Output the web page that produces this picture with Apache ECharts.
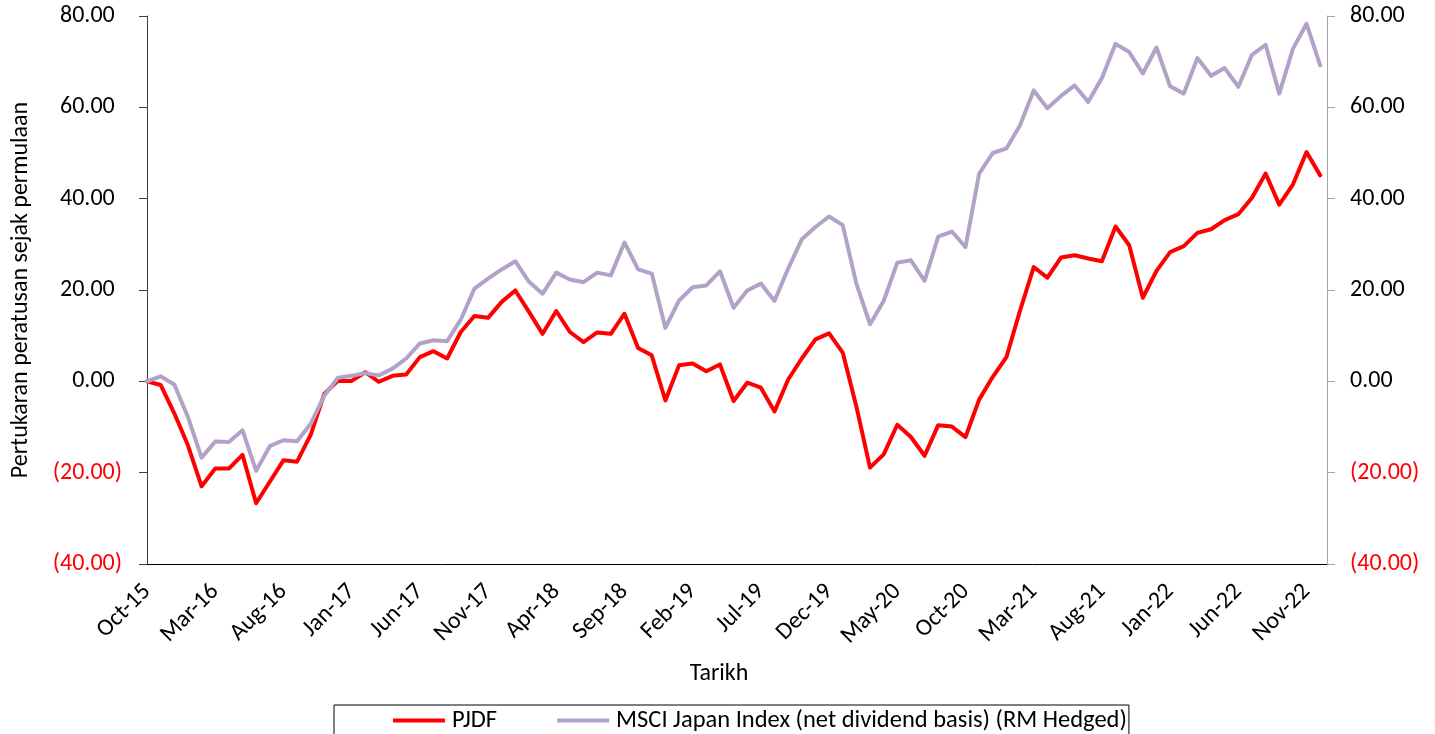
<!DOCTYPE html>
<html>
<head>
<meta charset="utf-8">
<script src="https://cdn.jsdelivr.net/npm/echarts@6/dist/echarts.min.js"></script>
<style>
html,body{margin:0;padding:0;background:#fff;}
#chart{width:1435px;height:734px;}
</style>
</head>
<body>
<div id="chart"></div>
<script>
const categories = [
 'Oct-15','Nov-15','Dec-15',
 'Jan-16','Feb-16','Mar-16','Apr-16','May-16','Jun-16','Jul-16','Aug-16','Sep-16','Oct-16','Nov-16','Dec-16',
 'Jan-17','Feb-17','Mar-17','Apr-17','May-17','Jun-17','Jul-17','Aug-17','Sep-17','Oct-17','Nov-17','Dec-17',
 'Jan-18','Feb-18','Mar-18','Apr-18','May-18','Jun-18','Jul-18','Aug-18','Sep-18','Oct-18','Nov-18','Dec-18',
 'Jan-19','Feb-19','Mar-19','Apr-19','May-19','Jun-19','Jul-19','Aug-19','Sep-19','Oct-19','Nov-19','Dec-19',
 'Jan-20','Feb-20','Mar-20','Apr-20','May-20','Jun-20','Jul-20','Aug-20','Sep-20','Oct-20','Nov-20','Dec-20',
 'Jan-21','Feb-21','Mar-21','Apr-21','May-21','Jun-21','Jul-21','Aug-21','Sep-21','Oct-21','Nov-21','Dec-21',
 'Jan-22','Feb-22','Mar-22','Apr-22','May-22','Jun-22','Jul-22','Aug-22','Sep-22','Oct-22','Nov-22','Dec-22'
];
const pjdf = [
 0, -0.8, -7.0,
 -14.0, -23.0, -19.1, -19.1, -16.1, -26.7, -22.0, -17.3, -17.6, -11.7, -2.7, 0.1,
 0.1, 2.0, -0.1, 1.2, 1.5, 5.3, 6.6, 5.0, 10.8, 14.3, 13.9, 17.4,
 19.9, 15.2, 10.4, 15.4, 10.8, 8.6, 10.7, 10.4, 14.8, 7.3, 5.7, -4.2,
 3.5, 3.9, 2.2, 3.7, -4.3, -0.3, -1.4, -6.6, 0.4, 5.0, 9.2, 10.5,
 6.3, -5.5, -18.9, -16.0, -9.5, -12.2, -16.3, -9.6, -9.9, -12.2, -4.0, 1.0,
 5.3, 15.5, 25.0, 22.7, 27.1, 27.6, 26.9, 26.3, 33.9, 29.8, 18.3, 24.2,
 28.3, 29.6, 32.5, 33.3, 35.3, 36.6, 40.2, 45.5, 38.7, 43.1, 50.2, 45.1
];
const msci = [
 0, 1.1, -0.7,
 -7.8, -16.7, -13.2, -13.3, -10.7, -19.6, -14.2, -12.9, -13.1, -9.3, -3.1, 0.8,
 1.2, 1.8, 1.3, 2.8, 5.0, 8.3, 9.0, 8.8, 13.5, 20.3, 22.5, 24.5,
 26.3, 21.8, 19.2, 23.8, 22.3, 21.7, 23.8, 23.2, 30.4, 24.5, 23.6, 11.7,
 17.7, 20.6, 21.0, 24.1, 16.1, 19.9, 21.4, 17.6, 24.7, 31.1, 33.8, 36.1,
 34.2, 21.4, 12.5, 17.6, 26.0, 26.5, 22.0, 31.7, 32.8, 29.4, 45.5, 50.0,
 51.0, 56.1, 63.7, 59.8, 62.5, 64.8, 61.2, 66.4, 73.9, 72.1, 67.4, 73.1,
 64.6, 63.0, 70.8, 66.9, 68.6, 64.5, 71.5, 73.7, 63.0, 72.8, 78.3, 69.2
];
const yTicks = [-40, -20, 0, 20, 40, 60, 80];
const seriesNames = ['PJDF', 'MSCI Japan Index (net dividend basis) (RM Hedged)'];
const yTitle = 'Pertukaran peratusan sejak permulaan';
const xTitle = 'Tarikh';

const FONT = 'Carlito, Lato, sans-serif';
const FS = 24;

function yFmt(v) {
  if (v < 0) return '{n|(' + Math.abs(v).toFixed(2) + ')}';
  return '{p|' + v.toFixed(2) + '}{h|)}';
}
const yRich = {
  n: {color: '#FF0000', fontSize: FS, fontFamily: FONT},
  p: {color: '#000000', fontSize: FS, fontFamily: FONT},
  h: {color: 'rgba(0,0,0,0)', fontSize: FS, fontFamily: FONT}
};

const chart = echarts.init(document.getElementById('chart'), null, {renderer: 'canvas'});
chart.setOption({
  animation: false,
  backgroundColor: '#ffffff',
  textStyle: {fontFamily: FONT},
  grid: {left: 147, right: 108, top: 16, bottom: 170, containLabel: false},
  legend: {
    left: 334, top: 705,
    padding: [3, 2, 30, 59],
    borderColor: '#000000', borderWidth: 1,
    itemGap: 60, itemWidth: 52, itemHeight: 4,
    icon: 'rect',
    textStyle: {fontSize: 24.5, fontFamily: FONT, color: '#000', padding: [0, 0, 0, 2]},
    data: seriesNames
  },
  xAxis: {
    type: 'value',
    min: 0, max: categories.length - 0.5, interval: 5,
    name: xTitle, nameLocation: 'middle', nameGap: 98,
    nameTextStyle: {fontSize: FS, fontFamily: FONT, color: '#000', padding: [0, 36, 0, 0]},
    axisLine: {show: true, onZero: false, lineStyle: {color: '#000000', width: 1}},
    axisTick: {show: false},
    splitLine: {show: false},
    axisLabel: {
      rotate: 45, margin: 24, fontSize: FS, fontFamily: FONT, color: '#000',
      showMaxLabel: false,
      formatter: function (v) { return (Number.isInteger(v) && categories[v]) ? categories[v] : ''; }
    }
  },
  yAxis: [{
    type: 'value', position: 'left',
    min: yTicks[0], max: yTicks[yTicks.length - 1], interval: 20,
    name: yTitle, nameLocation: 'middle', nameGap: 114,
    nameTextStyle: {fontSize: FS, fontFamily: FONT, color: '#000'},
    axisLine: {show: true, lineStyle: {color: '#404040', width: 1}},
    axisTick: {show: true, length: 8, lineStyle: {color: '#404040'}},
    splitLine: {show: false},
    axisLabel: {margin: 25, formatter: yFmt, rich: yRich}
  }, {
    type: 'value', position: 'right',
    min: yTicks[0], max: yTicks[yTicks.length - 1], interval: 20,
    axisLine: {show: true, lineStyle: {color: '#A6A6A6', width: 1}},
    axisTick: {show: true, length: 8, lineStyle: {color: '#A6A6A6'}},
    splitLine: {show: false},
    axisLabel: {margin: 23, formatter: yFmt, rich: yRich}
  }],
  series: [{
    name: seriesNames[0], type: 'line', yAxisIndex: 0,
    data: pjdf.map((v, i) => [i, v]),
    showSymbol: false, symbol: 'none', smooth: false,
    itemStyle: {color: '#FF0000'},
    lineStyle: {color: '#FF0000', width: 4, join: 'round', cap: 'round'},
    z: 2
  }, {
    name: seriesNames[1], type: 'line', yAxisIndex: 0,
    data: msci.map((v, i) => [i, v]),
    showSymbol: false, symbol: 'none', smooth: false,
    itemStyle: {color: '#B3A2C7'},
    lineStyle: {color: '#B3A2C7', width: 4, join: 'round', cap: 'round'},
    z: 3
  }]
});
</script>
</body>
</html>
